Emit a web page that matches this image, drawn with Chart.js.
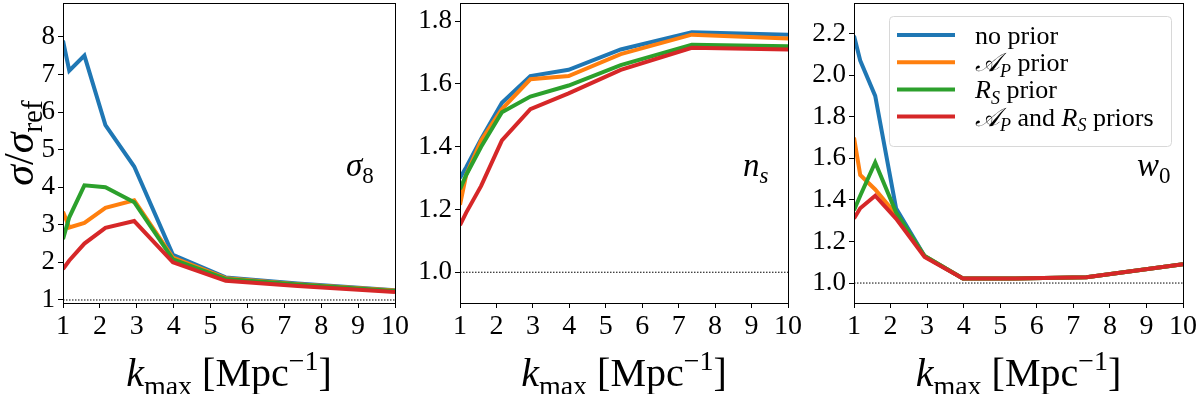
<!DOCTYPE html>
<html>
<head>
<meta charset="utf-8">
<script src="https://cdn.jsdelivr.net/npm/chart.js@4"></script>
<style>
  body { margin: 0; background: #fff; }
  #wrap { position: relative; width: 1200px; height: 394px; overflow: hidden; }
  canvas { position: absolute; top: 0; }
</style>
</head>
<body>
<div id="wrap">
  <canvas id="c1" width="430" height="394" style="left:0px"></canvas>
  <canvas id="c2" width="430" height="394" style="left:400px"></canvas>
  <canvas id="c3" width="430" height="394" style="left:800px"></canvas>
</div>
<script>
// k_max values (Mpc^-1)
const kmax = [1, 1.17, 1.58, 2.15, 2.93, 3.98, 5.41, 7.36, 10];

// sigma_8
const s8None = [7.9, 7.1, 7.5, 5.65, 4.55, 2.2, 1.6, 1.44, 1.26];
const s8Ap   = [3.35, 2.93, 3.05, 3.45, 3.65, 2.13, 1.58, 1.42, 1.25];
const s8Rs   = [2.62, 3.2, 4.05, 4.0, 3.6, 2.08, 1.56, 1.41, 1.24];
const s8Both = [1.82, 2.05, 2.5, 2.92, 3.1, 2.0, 1.51, 1.37, 1.21];

// n_s
const nsNone = [1.30, 1.335, 1.425, 1.54, 1.625, 1.645, 1.71, 1.765, 1.757];
const nsAp   = [1.215, 1.31, 1.42, 1.52, 1.615, 1.625, 1.695, 1.757, 1.745];
const nsRs   = [1.265, 1.31, 1.40, 1.51, 1.56, 1.595, 1.66, 1.725, 1.72];
const nsBoth = [1.15, 1.19, 1.275, 1.42, 1.52, 1.57, 1.645, 1.715, 1.71];

// w_0
const w0None = [2.19, 2.07, 1.90, 1.36, 1.13, 1.022, 1.022, 1.028, 1.09];
const w0Ap   = [1.70, 1.52, 1.45, 1.33, 1.13, 1.022, 1.022, 1.028, 1.09];
const w0Rs   = [1.35, 1.42, 1.58, 1.34, 1.13, 1.022, 1.022, 1.028, 1.09];
const w0Both = [1.31, 1.36, 1.42, 1.31, 1.125, 1.022, 1.022, 1.028, 1.09];

const refLevel = 1;
const colors = ["#1f77b4", "#ff7f0e", "#2ca02c", "#d62728"];

// legend texts, split in pieces: [text, style]
const legendLabels = [
  [["no prior", "r"]],
  [["𝒜", "i"], ["P", "si"], [" prior", "r"]],
  [["R", "i"], ["S", "si"], [" prior", "r"]],
  [["𝒜", "i"], ["P", "si"], [" and ", "r"], ["R", "i"], ["S", "si"], [" priors", "r"]]
];
const xTitle = [["k", "i"], ["max", "sr"], [" [Mpc", "r"], ["−1", "sup"], ["]", "r"]];
const yTitle = [["σ", "i"], ["/", "r"], ["σ", "i"], ["ref", "sr"]];

const serif = '"Liberation Serif", "Times New Roman", serif';
Chart.defaults.font.family = serif;
Chart.defaults.color = "#000";

// draw a piece of "math" text with sub/superscripts
function drawParts(ctx, parts, x, y, size, align) {
  function fontOf(k) {
    const small = (k === "si" || k === "sr" || k === "sup");
    const it = (k === "i" || k === "si");
    return (it ? "italic " : "") + Math.round(small ? size * 0.7 : size) + "px " + serif;
  }
  let w = 0;
  for (const p of parts) { ctx.font = fontOf(p[1]); w += ctx.measureText(p[0]).width; }
  let cx = x;
  if (align === "center") cx = x - w / 2;
  if (align === "right") cx = x - w;
  ctx.textAlign = "left";
  ctx.textBaseline = "alphabetic";
  for (const p of parts) {
    ctx.font = fontOf(p[1]);
    let dy = 0;
    if (p[1] === "sup") dy = -size * 0.4;
    if (p[1] === "si" || p[1] === "sr") dy = size * 0.22;
    ctx.fillText(p[0], cx, y + dy);
    cx += ctx.measureText(p[0]).width;
  }
}

const panelText = {
  id: "panelText",
  afterDraw(chart, args, opts) {
    const ctx = chart.ctx;
    const a = chart.chartArea;
    ctx.save();
    // frame
    ctx.strokeStyle = "#000";
    ctx.lineWidth = 1;
    ctx.strokeRect(Math.round(a.left) + 0.5, Math.round(a.top) + 0.5, Math.round(a.right - a.left), Math.round(a.bottom - a.top));
    ctx.fillStyle = "#000";
    drawParts(ctx, xTitle, (a.left + a.right) / 2, 386, 40, "center");
    drawParts(ctx, opts.label, a.left + 283, 176, 33, "left");
    if (opts.yTitle) {
      ctx.save();
      ctx.translate(33, 143);
      ctx.rotate(-Math.PI / 2);
      drawParts(ctx, yTitle, 0, 0, 42, "center");
      ctx.restore();
    }
    if (opts.legend) {
      const bx = a.left + 35, by = a.top + 13, bw = 282, bh = 130;
      ctx.fillStyle = "rgba(255,255,255,0.8)";
      ctx.strokeStyle = "#d8d8d8";
      ctx.lineWidth = 1;
      ctx.beginPath();
      ctx.roundRect(bx + 0.5, by + 0.5, bw, bh, 4);
      ctx.fill();
      ctx.stroke();
      legendLabels.forEach(function (lab, i) {
        const yy = by + 19 + i * 27.2;
        ctx.strokeStyle = colors[i];
        ctx.lineWidth = 4;
        ctx.beginPath();
        ctx.moveTo(bx + 8, yy);
        ctx.lineTo(bx + 66, yy);
        ctx.stroke();
        ctx.fillStyle = "#000";
        drawParts(ctx, lab, bx + 86, yy + 9, 26, "left");
      });
    }
    ctx.restore();
  }
};

function makeChart(id, series, yMin, yMax, yStep, yWidth, padRight, label, showY, showLegend) {
  const datasets = series.map(function (vals, i) {
    return {
      data: kmax.map(function (k, j) { return { x: k, y: vals[j] }; }),
      borderColor: colors[i],
      borderWidth: 4,
      pointRadius: 0,
      tension: 0,
      order: 3 - i
    };
  });
  datasets.push({
    data: [{ x: kmax[0], y: refLevel }, { x: kmax[kmax.length - 1], y: refLevel }],
    borderColor: "#000",
    borderWidth: 1,
    borderDash: [1.5, 1.5],
    pointRadius: 0,
    order: 10
  });
  return new Chart(document.getElementById(id), {
    type: "line",
    data: { datasets: datasets },
    options: {
      responsive: false,
      animation: false,
      layout: { padding: { left: 0, right: padRight, top: 3, bottom: 0 } },
      plugins: {
        legend: { display: false },
        tooltip: { enabled: false },
        panelText: { label: label, yTitle: showY, legend: showLegend }
      },
      scales: {
        x: {
          type: "linear",
          min: 1, max: 10,
          ticks: { stepSize: 1, color: "#000", font: { family: serif, size: 28 }, padding: 2, maxRotation: 0, includeBounds: false },
          grid: { drawOnChartArea: false, tickLength: 5, color: "#000" },
          border: { color: "#000" },
          afterFit: function (s) { s.height = 91; s.paddingLeft = 0; s.paddingRight = 0; }
        },
        y: {
          min: yMin, max: yMax,
          ticks: { stepSize: yStep, color: "#000", font: { family: serif, size: 27 }, padding: 3, includeBounds: false,
            callback: function (v) { return yStep < 1 ? v.toFixed(1) : v; } },
          grid: { drawOnChartArea: false, tickLength: 5, color: "#000" },
          border: { color: "#000" },
          afterFit: function (s) { s.width = yWidth; s.paddingTop = 0; s.paddingBottom = 0; }
        }
      }
    },
    plugins: [panelText]
  });
}

makeChart("c1", [s8None, s8Ap, s8Rs, s8Both], 0.92, 8.9, 1, 63, 35, [["σ", "i"], ["8", "sr"]], true, false);
makeChart("c2", [nsNone, nsAp, nsRs, nsBoth], 0.902, 1.858, 0.2, 60, 42, [["n", "i"], ["s", "si"]], false, false);
makeChart("c3", [w0None, w0Ap, w0Rs, w0Both], 0.904, 2.347, 0.2, 54, 47, [["w", "i"], ["0", "sr"]], false, true);
</script>
</body>
</html>
